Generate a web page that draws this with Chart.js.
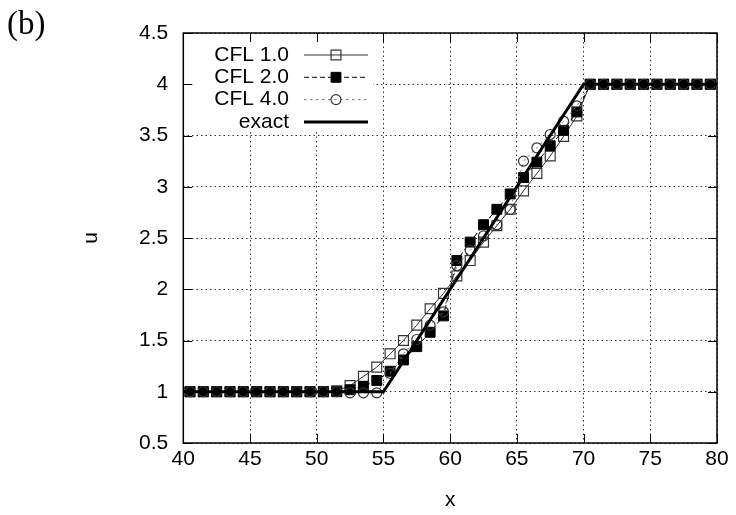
<!DOCTYPE html>
<html>
<head>
<meta charset="utf-8">
<script src="https://cdn.jsdelivr.net/npm/chart.js@4.4.1/dist/chart.umd.min.js"></script>
<style>
  html, body { margin: 0; padding: 0; background: #fff; }
</style>
</head>
<body>
<canvas id="plot" width="736" height="515"></canvas>
<script>
// cell centres
const cellX = [40.5, 41.5, 42.5, 43.5, 44.5, 45.5, 46.5, 47.5, 48.5, 49.5,
               50.5, 51.5, 52.5, 53.5, 54.5, 55.5, 56.5, 57.5, 58.5, 59.5,
               60.5, 61.5, 62.5, 63.5, 64.5, 65.5, 66.5, 67.5, 68.5, 69.5,
               70.5, 71.5, 72.5, 73.5, 74.5, 75.5, 76.5, 77.5, 78.5, 79.5];

const uCfl1 = [1, 1, 1, 1, 1, 1, 1, 1, 1, 1,
               1, 1.01, 1.06, 1.15, 1.24, 1.37, 1.50, 1.65, 1.81, 1.96,
               2.13, 2.28, 2.46, 2.62, 2.78, 2.96, 3.13, 3.30, 3.49, 3.69,
               4, 4, 4, 4, 4, 4, 4, 4, 4, 4];

const uCfl2 = [1, 1, 1, 1, 1, 1, 1, 1, 1, 1,
               1, 1, 1.02, 1.05, 1.11, 1.20, 1.31, 1.44, 1.58, 1.74,
               2.28, 2.46, 2.63, 2.78, 2.93, 3.09, 3.24, 3.40, 3.55, 3.73,
               4, 4, 4, 4, 4, 4, 4, 4, 4, 4];

const uCfl4 = [1, 1, 1, 1, 1, 1, 1, 1, 1, 1,
               1, 1, 0.99, 0.99, 0.99, 1.18, 1.37, 1.51, 1.65, 1.78,
               2.23, 2.38, 2.52, 2.63, 2.78, 3.25, 3.38, 3.51, 3.64, 3.79,
               4, 4, 4, 4, 4, 4, 4, 4, 4, 4];

const exactX = [40, 55, 70, 80];
const exactU = [1, 1, 4, 4];

const FONT = '"Liberation Sans", Arial, sans-serif';
const TICK_LEN = 9;

function pairs(xs, ys) {
  return xs.map((x, i) => ({ x: x, y: ys[i] }));
}

// opaque key box, inward ticks on all four sides, frame, key entries, panel tag
const gnuplotLook = {
  id: 'gnuplotLook',
  beforeDatasetsDraw(chart) {
    const { ctx, chartArea: a } = chart;
    ctx.save();
    ctx.fillStyle = '#fff';
    ctx.fillRect(a.left + 1, a.top + 1, 372 - a.left, 131 - a.top);
    ctx.restore();
  },
  afterDraw(chart) {
    const { ctx, chartArea: a } = chart;
    const xs = chart.scales.x, ys = chart.scales.y;
    ctx.save();
    ctx.strokeStyle = '#000';
    ctx.lineWidth = 1;
    ctx.beginPath();
    xs.ticks.forEach(t => {
      const px = Math.round(xs.getPixelForValue(t.value)) + 0.5;
      ctx.moveTo(px, a.bottom); ctx.lineTo(px, a.bottom - TICK_LEN);
      ctx.moveTo(px, a.top); ctx.lineTo(px, a.top + TICK_LEN);
    });
    ys.ticks.forEach(t => {
      const py = Math.round(ys.getPixelForValue(t.value)) + 0.5;
      ctx.moveTo(a.left, py); ctx.lineTo(a.left + TICK_LEN, py);
      ctx.moveTo(a.right, py); ctx.lineTo(a.right - TICK_LEN, py);
    });
    ctx.stroke();

    ctx.lineWidth = 1.5;
    ctx.strokeRect(a.left, a.top, a.right - a.left, a.bottom - a.top);

    // key
    ctx.font = '21px ' + FONT;
    ctx.textAlign = 'right';
    ctx.textBaseline = 'middle';
    chart.data.datasets.forEach((ds, i) => {
      const y = 55 + i * 22.3;
      ctx.fillStyle = '#000';
      ctx.fillText(ds.label, 289, y);
      ctx.setLineDash(ds.borderDash || []);
      ctx.strokeStyle = ds.borderColor;
      ctx.lineWidth = ds.borderWidth;
      ctx.beginPath();
      ctx.moveTo(304, y); ctx.lineTo(368, y);
      ctx.stroke();
      ctx.setLineDash([]);
      if (ds.pointRadius > 0) {
        ctx.lineWidth = ds.pointBorderWidth;
        ctx.strokeStyle = ds.pointBorderColor;
        ctx.fillStyle = ds.pointBackgroundColor;
        ctx.beginPath();
        if (ds.pointStyle === 'rect') {
          const h = ds.pointRadius * Math.SQRT1_2;
          ctx.rect(336 - h, y - h, 2 * h, 2 * h);
        } else {
          ctx.arc(336, y, ds.pointRadius, 0, Math.PI * 2);
        }
        ctx.fill();
        ctx.stroke();
      }
    });

    ctx.font = '33px "Liberation Serif", "DejaVu Serif", serif';
    ctx.textAlign = 'left';
    ctx.textBaseline = 'alphabetic';
    ctx.fillStyle = '#000';
    ctx.fillText('(b)', 7, 34);
    ctx.restore();
  }
};

new Chart(document.getElementById('plot').getContext('2d'), {
  type: 'scatter',
  data: {
    datasets: [
      {
        label: 'CFL 1.0',
        data: pairs(cellX, uCfl1),
        showLine: true,
        borderColor: '#333',
        borderWidth: 1,
        pointStyle: 'rect',
        pointRadius: 7,
        pointBorderWidth: 1.2,
        pointBorderColor: '#333',
        pointBackgroundColor: 'rgba(0,0,0,0)',
        order: 3
      },
      {
        label: 'CFL 2.0',
        data: pairs(cellX, uCfl2),
        showLine: true,
        borderColor: '#000',
        borderWidth: 1,
        borderDash: [5, 3],
        pointStyle: 'rect',
        pointRadius: 7,
        pointBorderWidth: 1,
        pointBorderColor: '#000',
        pointBackgroundColor: '#000',
        order: 2
      },
      {
        label: 'CFL 4.0',
        data: pairs(cellX, uCfl4),
        showLine: true,
        borderColor: '#777',
        borderWidth: 1,
        borderDash: [2.5, 3.5],
        pointStyle: 'circle',
        pointRadius: 5,
        pointBorderWidth: 1.2,
        pointBorderColor: '#333',
        pointBackgroundColor: 'rgba(0,0,0,0)',
        order: 1
      },
      {
        label: 'exact',
        data: pairs(exactX, exactU),
        showLine: true,
        borderColor: '#000',
        borderWidth: 3,
        pointRadius: 0,
        order: 0
      }
    ]
  },
  options: {
    responsive: false,
    animation: false,
    events: [],
    layout: { padding: { top: 33, right: 19, left: 0, bottom: 0 } },
    plugins: {
      legend: { display: false },
      tooltip: { enabled: false }
    },
    scales: {
      x: {
        type: 'linear',
        min: 40, max: 80,
        afterFit: s => { s.height = 72; },
        ticks: {
          stepSize: 5,
          padding: 4,
          color: '#000',
          font: { family: FONT, size: 21 },
          callback: v => String(v)
        },
        grid: { color: '#333', lineWidth: 1, drawTicks: false },
        border: { display: false, dash: [1.5, 3] },
        title: {
          display: true, text: 'x', color: '#000',
          font: { family: FONT, size: 21 },
          padding: { top: 0, bottom: 2 }
        }
      },
      y: {
        type: 'linear',
        min: 0.5, max: 4.5,
        afterFit: s => { s.width = 183.3; },
        ticks: {
          stepSize: 0.5,
          padding: 15,
          color: '#000',
          font: { family: FONT, size: 21 },
          callback: v => String(+v.toFixed(2))
        },
        grid: { color: '#333', lineWidth: 1, drawTicks: false },
        border: { display: false, dash: [1.5, 3] },
        title: {
          display: true, text: 'u', color: '#000',
          font: { family: FONT, size: 21 },
          padding: { top: 79, bottom: 0 }
        }
      }
    }
  },
  plugins: [gnuplotLook]
});
</script>
</body>
</html>
